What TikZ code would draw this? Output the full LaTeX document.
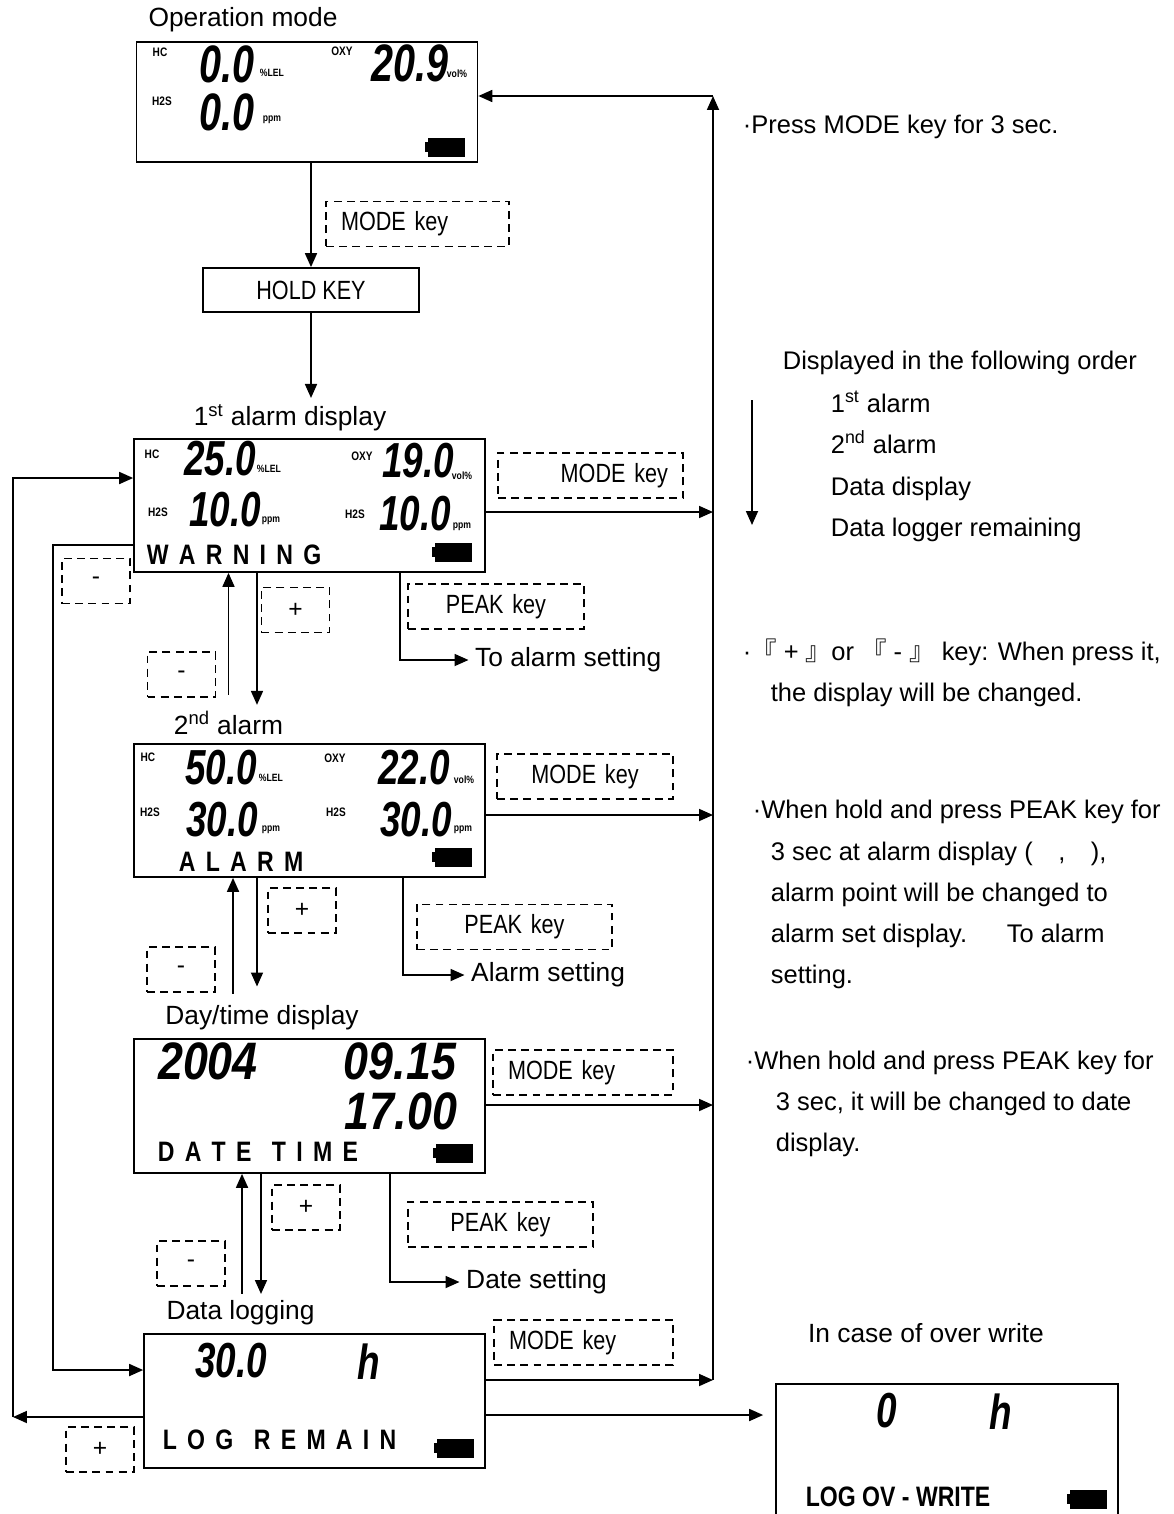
\documentclass[tikz,border=0pt]{standalone}
\usepackage{fontspec}
\setmainfont{Liberation Sans}
\newfontfamily\keyfont[FakeStretch=0.82]{Liberation Sans}
\newfontfamily\wordfont[FakeStretch=0.821,WordSpace=1.6]{Liberation Sans}
\newfontfamily\lcdfont[FakeStretch=0.75]{Liberation Sans}
\newfontfamily\lcdwide[FakeStretch=0.85]{Liberation Sans}
\newfontfamily\cjk{Noto Sans CJK KR}
\usetikzlibrary{arrows.meta,positioning}

\begin{document}
\begin{tikzpicture}[x=0.02cm, y=-0.02cm, line width=1pt,
    arr/.style={-{Triangle[length=0.28cm,width=0.24cm]}},
    lcd/.style={draw, rectangle, inner sep=0pt, minimum width=7.02cm, minimum height=2.66cm},
    keybox/.style={draw, line width=0.8pt, dash pattern=on 4.5pt off 3pt, rectangle,
        minimum height=0.9cm, inner xsep=0.3cm, font=\keyfont\fontsize{15}{18}\selectfont},
    pmbox/.style={draw, line width=0.8pt, dash pattern=on 4.5pt off 3pt, minimum width=1.36cm,
        minimum height=0.9cm, font=\fontsize{14}{16}\selectfont},
    lbl/.style={font=\fontsize{15}{18}\selectfont},
    note/.style={anchor=base west, inner sep=0pt, font=\fontsize{14.5}{18}\selectfont},
    big/.style={inner sep=0pt, font=\lcdfont\bfseries\itshape\fontsize{28}{28}\selectfont},
    bigop/.style={inner sep=0pt, font=\lcdfont\bfseries\itshape\fontsize{30}{30}\selectfont},
    bigdate/.style={inner sep=0pt, font=\lcdwide\bfseries\itshape\fontsize{30}{30}\selectfont},
    tag/.style={inner sep=0pt, font=\keyfont\bfseries\fontsize{7}{7}\selectfont},
    unit/.style={inner sep=0pt, font=\keyfont\bfseries\fontsize{6}{7}\selectfont},
    word/.style={anchor=west, inner sep=0pt, font=\wordfont\bfseries\fontsize{16}{18}\selectfont},
    battery/.pic={\fill (-17,-9.5) rectangle (20,9.5); \fill (-20,-5) rectangle (-17,5);}
  ]
    \useasboundingbox (0,0) rectangle (1173,1514);

    % Labels over the displays
    \node[lbl] (lblOp) at (243,20) {Operation mode};
    \node[lbl] (lblA) at (290,418) {1\textsuperscript{st} alarm display};
    \node[lbl] (lblB) at (228.5,723) {2\textsuperscript{nd} alarm};
    \node[lbl] (lblC) at (262,1018) {Day/time display};
    \node[lbl] (lblD) at (240.5,1313) {Data logging};
    \node[lbl] (lblOv) at (926,1333) {In case of over write};

    % Displays
    \node[lcd, minimum width=6.82cm, minimum height=2.4cm] (opbox) at (307,102) {};
    \node[draw, minimum width=4.32cm, minimum height=0.88cm, font=\keyfont\fontsize{15}{18}\selectfont] (hold) at (311,290) {HOLD KEY};
    \node[lcd] (box1) at (309.5,505.5) {};
    \node[lcd] (box2) at (309.5,810.5) {};
    \node[lcd, minimum height=2.68cm] (datebox) at (309.5,1106) {};
    \node[lcd, minimum width=6.82cm, minimum height=2.68cm] (logbox) at (314.5,1401) {};
    \node[lcd, minimum width=6.84cm, minimum height=3.1cm] (ovbox) at (947,1461.5) {};

    % Operation mode readings
    \node[tag] (opT1) at (160,52) {HC};
    \node[bigop] (opV1) at (227,64) {0.0};
    \node[unit] (opU1) at (272,73) {\%LEL};
    \node[tag] (opT2) at (342,51) {OXY};
    \node[bigop] (opV2) at (410,63) {20.9};
    \node[unit] (opU2) at (457,74) {vol\%};
    \node[tag] (opT3) at (162,101) {H2S};
    \node[bigop] (opV3) at (227,112) {0.0};
    \node[unit] (opU3) at (272,120) {ppm};
    \pic at (445,147) {battery};

    % 1st alarm readings
    \node[tag] (aT1) at (152,454) {HC};
    \node[big] (aV1) at (220,459) {25.0};
    \node[unit] (aU1) at (269,469) {\%LEL};
    \node[tag] (aT2) at (362,456) {OXY};
    \node[big] (aV2) at (418,461) {19.0};
    \node[unit] (aU2) at (462,476) {vol\%};
    \node[tag] (aT3) at (158,512) {H2S};
    \node[big] (aV3) at (225,510) {10.0};
    \node[unit] (aU3) at (271,521) {ppm};
    \node[tag] (aT4) at (355,514) {H2S};
    \node[big] (aV4) at (415,514) {10.0};
    \node[unit] (aU4) at (462,527) {ppm};
    \node[word] (aW) at (146,555) {W A R N I N G};
    \pic at (452,552) {battery};

    % 2nd alarm readings
    \node[tag] (bT1) at (148,757) {HC};
    \node[big] (bV1) at (221,768) {50.0};
    \node[unit] (bU1) at (271,778) {\%LEL};
    \node[tag] (bT2) at (335,758) {OXY};
    \node[big] (bV2) at (414,768) {22.0};
    \node[unit] (bU2) at (464,780) {vol\%};
    \node[tag] (bT3) at (150,812) {H2S};
    \node[big] (bV3) at (222,820) {30.0};
    \node[unit] (bU3) at (271,830) {ppm};
    \node[tag] (bT4) at (336,812) {H2S};
    \node[big] (bV4) at (416,820) {30.0};
    \node[unit] (bU4) at (463,830) {ppm};
    \node[word] (bW) at (178,862) {A L A R M};
    \pic at (452,857) {battery};

    % Day/time readings
    \node[bigdate] (dV1) at (208,1061) {2004};
    \node[bigdate] (dV2) at (400,1061) {09.15};
    \node[bigdate] (dV3) at (401,1111) {17.00};
    \node[word] (dW) at (157,1152) {D A T E \ T I M E};
    \pic at (453,1153) {battery};

    % Data logging readings
    \node[big] (lV1) at (231,1361) {30.0};
    \node[big] (lV2) at (369,1362) {h};
    \node[word] (lW) at (162,1440) {L O G \ R E M A I N};
    \pic at (454,1448) {battery};

    % Over write readings
    \node[big] (oV1) at (887,1411) {0};
    \node[big] (oV2) at (1001,1412) {h};
    \node[anchor=west, inner sep=0pt, font=\keyfont\bfseries\fontsize{16}{18}\selectfont] (oW) at (805,1497) {LOG OV - WRITE};
    \pic at (1087,1499) {battery};

    % Keys
    \node[keybox, text width=3.06cm, align=left] (modeA) at (417.5,224) {MODE key};
    \node[keybox, text width=3.10cm, align=right] (modeB) at (590.5,475.5) {MODE key};
    \node[keybox, text width=2.92cm, align=center] (modeC) at (585,776.5) {MODE key};
    \node[keybox, text width=3.00cm, align=left] (modeD) at (583,1072.5) {MODE key};
    \node[keybox, text width=2.98cm, align=left] (modeE) at (583.5,1342.5) {MODE key};
    \node[keybox, text width=2.92cm, align=center] (peakA) at (496,606.5) {PEAK key};
    \node[keybox, text width=3.30cm, align=center] (peakB) at (514.5,927) {PEAK key};
    \node[keybox, text width=3.10cm, align=center] (peakC) at (500.5,1224.5) {PEAK key};
    \node[pmbox] (minusA) at (96,581) {-};
    \node[pmbox] (plusA) at (295.5,610) {+};
    \node[pmbox] (minusB) at (181.5,674.5) {-};
    \node[pmbox] (plusB) at (302,910.5) {+};
    \node[pmbox] (minusC) at (181,969.5) {-};
    \node[pmbox] (plusC) at (306,1207.5) {+};
    \node[pmbox] (minusD) at (191,1263.5) {-};
    \node[pmbox] (plusD) at (100,1449.5) {+};

    % Setting targets
    \node[lbl, anchor=west] (tgtA) at (468.5,660) {To alarm setting};
    \node[lbl, anchor=west] (tgtB) at (464.5,975) {Alarm setting};
    \node[lbl, anchor=west] (tgtC) at (459.5,1282) {Date setting};

    % Main flow
    \draw[arr] (hold.north |- opbox.south) -- (hold.north);
    \draw[arr] (hold.south) -- (hold.south |- lblA.north);
    \draw[arr] ([yshift=0.2cm]lblB.north) -- (lblB.north |- box1.south);
    \draw[arr] ([xshift=-1.05cm]box1.south) -- ([xshift=0.57cm]lblB.north);
    \draw[arr] ([xshift=-0.58cm,yshift=0.1cm]lblC.north) -- ([xshift=-1.53cm]box2.south);
    \draw[arr] ([xshift=-1.05cm]box2.south) -- ([xshift=-0.1cm,yshift=0.25cm]lblC.north);
    \draw[arr] ([xshift=0.03cm]lblD.north) -- ([xshift=-1.35cm]datebox.south);
    \draw[arr] ([xshift=-0.97cm]datebox.south) -- ([xshift=0.41cm]lblD.north);

    % PEAK key branches
    \draw[arr] ([xshift=1.81cm]box1.south) |- (tgtA.west);
    \draw[arr] ([xshift=1.87cm]box2.south) |- (tgtB.west);
    \draw[arr] ([xshift=1.61cm]datebox.south) |- (tgtC.west);

    % MODE key return line
    \coordinate (busTop) at (713,96);
    \path ([yshift=-0.13cm]box1.east) coordinate (b1out);
    \path ([yshift=-0.09cm]box2.east) coordinate (b2out);
    \path ([yshift=0.02cm]datebox.east) coordinate (dout);
    \path ([yshift=0.42cm]logbox.east) coordinate (lout);
    \coordinate (busBot) at (lout -| busTop);
    \draw[arr] (b1out) -- (b1out -| busTop);
    \draw[arr] (b2out) -- (b2out -| busTop);
    \draw[arr] (dout) -- (dout -| busTop);
    \draw[arr] (lout) -- (busBot);
    \draw[arr] (busBot) -- (busTop);
    \draw[arr] (busTop) -- (busTop -| opbox.east);

    % Over write
    \path ([yshift=-0.28cm]logbox.east) coordinate (ovout);
    \draw[arr, shorten >=0.24cm] (ovout) -- (ovout -| ovbox.west);

    % + / - loops on the left
    \path ([yshift=-0.32cm]logbox.west) coordinate (logBack);
    \coordinate (outerL) at (13,1417);
    \draw[arr] (logBack) -- (outerL);
    \draw[arr] (outerL) |- ([yshift=0.55cm]box1.west);
    \path ([yshift=-0.79cm]box1.west) coordinate (b1back);
    \coordinate (innerL) at (53,545);
    \draw[arr] (b1back) -- (innerL) |- ([yshift=0.62cm]logbox.west);

    % Notes
    \node[note] (n1) at (742,133) {·Press MODE key for 3 sec.};
    \node[note] (n2) at (782,369) {Displayed in the following order};
    \node[note] (n3) at (830,412) {1\textsuperscript{st} alarm};
    \node[note] (n4) at (830,453) {2\textsuperscript{nd} alarm};
    \node[note] (n5) at (830,495) {Data display};
    \node[note] (n6) at (830,536) {Data logger remaining};
    \coordinate (ordTop) at (752,400);
    \coordinate (ordBot) at (752,525);
    \draw[arr] (ordTop) -- (ordBot);
    \node[note] (n7) at (742,660) {·{\cjk 『} + {\cjk 』}or {\cjk 『} - {\cjk 』} key: When press it,};
    \node[note] (n8) at (770,701) {the display will be changed.};
    \node[note] (n9) at (752,818) {·When hold and press PEAK key for};
    \node[note] (n10) at (770,860) {3 sec at alarm display (\quad,\quad),};
    \node[note] (n11) at (770,901) {alarm point will be changed to};
    \node[note] (n12) at (770,942) {alarm set display.\quad\ \ To alarm};
    \node[note] (n13) at (770,983) {setting.};
    \node[note] (n14) at (745,1069) {·When hold and press PEAK key for};
    \node[note] (n15) at (775,1110) {3 sec, it will be changed to date};
    \node[note] (n16) at (775,1151) {display.};

\end{tikzpicture}
\end{document}
